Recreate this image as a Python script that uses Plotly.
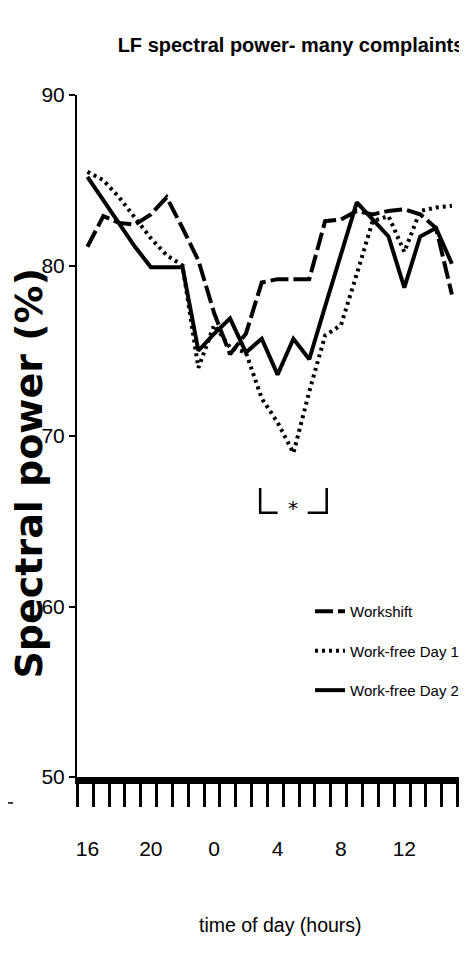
import plotly.graph_objects as go

# ---- data ----
hour_labels = ["16", "17", "18", "19", "20", "21", "22", "23", "0", "1", "2", "3",
               "4", "5", "6", "7", "8", "9", "10", "11", "12", "13", "14", "15"]
hour_index = list(range(len(hour_labels)))

workshift = [81.1, 82.9, 82.5, 82.4, 83.0, 84.0, 82.2, 80.3, 77.2, 74.8, 76.0, 79.0,
             79.2, 79.2, 79.2, 82.6, 82.7, 83.2, 83.0, 83.2, 83.3, 83.0, 82.2, 78.3]
work_free_day1 = [85.5, 85.0, 84.0, 82.8, 81.6, 80.6, 80.0, 74.0, 76.5, 75.2, 74.9, 72.2,
                  70.8, 69.0, 72.6, 75.9, 76.5, 79.5, 82.6, 82.9, 80.8, 83.2, 83.4, 83.5]
work_free_day2 = [85.2, 83.8, 82.5, 81.1, 79.9, 79.9, 79.9, 75.0, 76.0, 76.9, 74.9, 75.7,
                  73.6, 75.7, 74.5, 77.6, 80.6, 83.7, 82.7, 81.7, 78.7, 81.7, 82.2, 80.1]

x_label_vals = [0, 4, 8, 12, 16, 20]
x_label_text = ["16", "20", "0", "4", "8", "12"]
y_ticks = [50, 60, 70, 80, 90]

SANS = "Liberation Sans, Arial, sans-serif"
BOLDW = "DejaVu Sans, Arial, sans-serif"

fig = go.Figure()
series = [
    ("Workshift", workshift, "18px,5px"),
    ("Work-free Day 1", work_free_day1, "3px,4px"),
    ("Work-free Day 2", work_free_day2, "solid"),
]
for name, vals, dash in series:
    fig.add_trace(go.Scatter(
        x=hour_index, y=vals, mode="lines", name=name, legendgroup=name,
        line=dict(color="black", width=4, dash=dash),
    ))

# tick marks sit between hour positions (minor ticks), labels at the hours
minor_ticks = [i + 0.36 for i in range(-1, 24)]

fig.update_layout(
    width=459, height=956,
    margin=dict(l=69, r=8, t=87, b=187, autoexpand=False),
    paper_bgcolor="white", plot_bgcolor="white",
    title=dict(text="<b>LF spectral power- many complaints</b>", xref="container",
               x=0.6166, xanchor="center", y=0.9613, yanchor="middle",
               font=dict(family=SANS, size=20, color="black")),
    xaxis=dict(range=[-0.66, 23.45], showgrid=False, zeroline=False,
               showline=True, linewidth=7, linecolor="black",
               tickvals=x_label_vals, ticktext=x_label_text, ticks="",
               ticklabelstandoff=47,
               tickfont=dict(family=SANS, size=21, color="black"),
               minor=dict(tickvals=minor_ticks, ticks="outside", ticklen=23,
                          tickwidth=2.5, tickcolor="black", showgrid=False)),
    yaxis=dict(range=[50, 90], showgrid=False, zeroline=False,
               showline=True, linewidth=2, linecolor="black",
               tickvals=y_ticks, ticks="outside", ticklen=6, tickwidth=2,
               tickcolor="black",
               tickfont=dict(family=SANS, size=21, color="black")),
    legend=dict(x=0.61, xanchor="left", y=0.267, yanchor="top",
                bgcolor="rgba(0,0,0,0)", tracegroupgap=17, itemwidth=30,
                font=dict(family=SANS, size=15, color="black")),
    showlegend=True,
)

# axis titles as annotations placed like the reference
fig.add_annotation(text="<b>Spectral power (%)</b>", textangle=-90,
                   xref="paper", yref="paper", x=-0.128, y=0.445,
                   xanchor="center", yanchor="middle", showarrow=False,
                   font=dict(family=BOLDW, size=38, color="black"))
fig.add_annotation(text="time of day (hours)", xref="paper", yref="paper",
                   x=0.534, y=-0.217, xanchor="center", yanchor="middle",
                   showarrow=False, font=dict(family=SANS, size=19.5, color="black"))

# significance bracket
fig.add_shape(type="path", xref="x", yref="y",
              path="M 10.9 66.95 L 10.9 65.5 L 12.0 65.5",
              line=dict(color="black", width=2.5))
fig.add_shape(type="path", xref="x", yref="y",
              path="M 13.9 65.5 L 15.1 65.5 L 15.1 66.95",
              line=dict(color="black", width=2.5))
fig.add_annotation(text="*", x=13.0, y=65.8, xref="x", yref="y", showarrow=False,
                   font=dict(family="DejaVu Sans", size=20, color="black"))

# small stray stroke at the left edge
fig.add_shape(type="line", xref="paper", yref="paper",
              x0=-0.1806, x1=-0.1675, y0=-0.038, y1=-0.038,
              line=dict(color="black", width=1.5))

fig.write_html("out.html")
